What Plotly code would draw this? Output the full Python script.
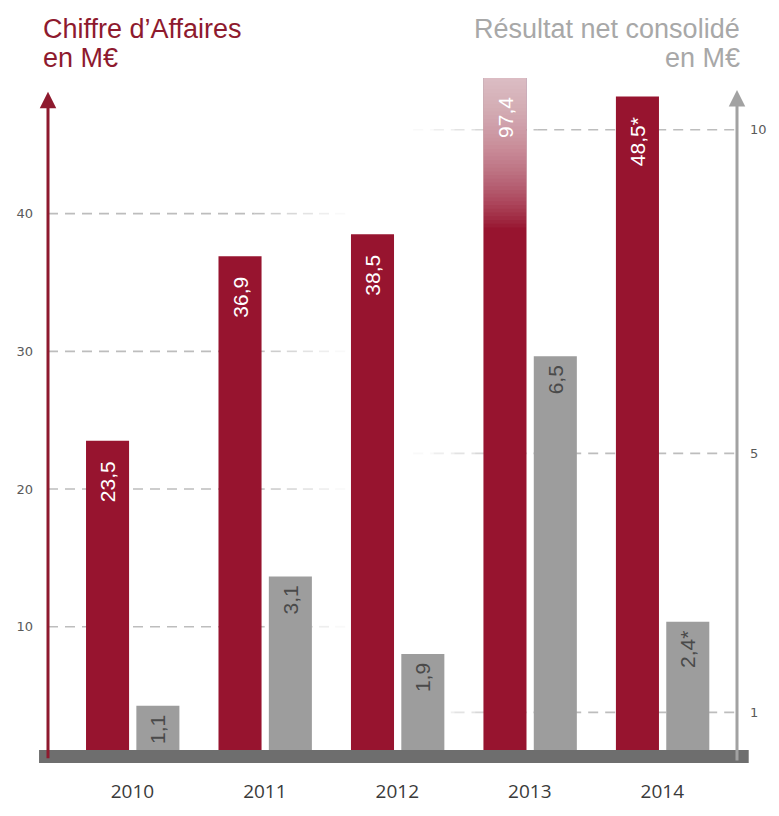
import plotly.graph_objects as go

# ---- data ----
years = ["2010", "2011", "2012", "2013", "2014"]
ca_values = [23.5, 36.9, 38.5, 97.4, 48.5]          # Chiffre d'Affaires (M€)
ca_labels = ["23,5", "36,9", "38,5", "97,4", "48,5*"]
rn_values = [1.1, 3.1, 1.9, 6.5, 2.4]               # Résultat net consolidé (M€)
rn_labels = ["1,1", "3,1", "1,9", "6,5", "2,4*"]
ca_ticks = [10, 20, 30, 40]
rn_ticks = [1, 5, 10]
highlight_year = "2013"

# ---- style ----
RED = "#97142f"
RED_AXIS = "#8e1a2e"
GREY_BAR = "#9d9d9d"
GREY_AXIS = "#a2a2a2"
BAND = "#6e6e6e"
GRID = "#bdbdbd"
FONT = "Liberation Sans, Arial, sans-serif"
TICK_FONT = "DejaVu Sans, Liberation Sans, sans-serif"
PAD_RED = "\u00a0" * 3
PAD_GREY = "\u00a0" * 1

Y1_RANGE = [0.54, 49.85]
Y2_RANGE = [0.31, 10.8]
RED_OFF, GREY_OFF, BAR_W = -0.35, 0.03, 0.325

# labels of bars that run past the top of the axis are placed separately
in_range_ca_text = [(t + PAD_RED) if v <= Y1_RANGE[1] else "" for t, v in zip(ca_labels, ca_values)]

fig = go.Figure()
fig.add_trace(go.Bar(
    x=years, y=ca_values, yaxis="y", offset=RED_OFF, width=BAR_W,
    marker=dict(color=RED, line=dict(width=0)),
    text=in_range_ca_text, textposition="inside",
    insidetextanchor="end", textangle=-90,
    textfont=dict(color="white", size=21, family=FONT),
    hoverinfo="skip",
))
fig.add_trace(go.Bar(
    x=years, y=rn_values, yaxis="y2", offset=GREY_OFF, width=BAR_W,
    marker=dict(color=GREY_BAR, line=dict(width=0)),
    text=[t + PAD_GREY for t in rn_labels], textposition="inside",
    insidetextanchor="end", textangle=-90,
    textfont=dict(color="#4a4a4a", size=21, family=FONT),
    hoverinfo="skip",
))

shapes = []
DASH = "10px,7px"

# fading dashed gridlines (left axis: fade out to the right)
for v in ca_ticks:
    shapes.append(dict(type="line", xref="paper", yref="y", x0=0, x1=0.30, y0=v, y1=v,
                       line=dict(color=GRID, width=1.6, dash=DASH), layer="below"))
    n = 6
    for k in range(n):
        a0 = 0.30 + 0.14 * k / n
        a1 = 0.30 + 0.14 * (k + 1) / n
        shapes.append(dict(type="line", xref="paper", yref="y", x0=a0, x1=a1, y0=v, y1=v,
                           opacity=1 - (k + 0.5) / n,
                           line=dict(color=GRID, width=1.6, dash=DASH), layer="below"))
# right axis gridlines: fade in from the left
for v in rn_ticks:
    n = 6
    for k in range(n):
        a0 = 0.53 + 0.18 * k / n
        a1 = 0.53 + 0.18 * (k + 1) / n
        shapes.append(dict(type="line", xref="paper", yref="y2", x0=a0, x1=a1, y0=v, y1=v,
                           opacity=(k + 0.5) / n,
                           line=dict(color=GRID, width=1.6, dash=DASH), layer="below"))
    shapes.append(dict(type="line", xref="paper", yref="y2", x0=0.71, x1=1.0, y0=v, y1=v,
                       line=dict(color=GRID, width=1.6, dash=DASH), layer="below"))

# gradient fade at the top of the highlighted (off-scale) bar: stacked translucent layers
hi = years.index(highlight_year)
g_bottom, g_top = 39.0, Y1_RANGE[1]
N = 40
alpha = 1 - (1 - 0.78) ** (1 / N)
for k in range(N):
    y0 = g_bottom + (g_top - g_bottom) * k / N
    shapes.append(dict(type="rect", xref="x", yref="y",
                       x0=hi + RED_OFF, x1=hi + RED_OFF + BAR_W, y0=y0, y1=g_top,
                       fillcolor="white", opacity=alpha,
                       line=dict(width=0), layer="above"))

# baseline band
shapes.append(dict(type="rect", xref="paper", yref="paper", x0=-0.013, x1=1.017,
                   y0=-0.0087, y1=0.0102, fillcolor=BAND, line=dict(width=0), layer="above"))

TITLE_SIZE = 27
annotations = [
    # axis arrows
    dict(xref="paper", yref="paper", x=0, y=0.9796, ax=0, ay=668, axref="pixel", ayref="pixel",
         text="", showarrow=True, arrowhead=2, arrowsize=1.1, arrowwidth=3, arrowcolor=RED_AXIS),
    dict(xref="paper", yref="paper", x=1, y=0.9825, ax=0, ay=672, axref="pixel", ayref="pixel",
         text="", showarrow=True, arrowhead=2, arrowsize=1.1, arrowwidth=3, arrowcolor=GREY_AXIS),
    # titles (one annotation per line for tight leading)
    dict(xref="paper", yref="paper", x=-0.010, y=1.0729, xanchor="left", yanchor="middle",
         showarrow=False, text="Chiffre d\u2019Affaires",
         font=dict(family=FONT, size=TITLE_SIZE, color=RED_AXIS)),
    dict(xref="paper", yref="paper", x=-0.010, y=1.0292, xanchor="left", yanchor="middle",
         showarrow=False, text="en M\u20ac",
         font=dict(family=FONT, size=TITLE_SIZE, color=RED_AXIS)),
    dict(xref="paper", yref="paper", x=1.007, y=1.0729, xanchor="right", yanchor="middle",
         showarrow=False, text="R\u00e9sultat net consolid\u00e9",
         font=dict(family=FONT, size=TITLE_SIZE, color="#a8a8a8")),
    dict(xref="paper", yref="paper", x=1.007, y=1.0292, xanchor="right", yanchor="middle",
         showarrow=False, text="en M\u20ac",
         font=dict(family=FONT, size=TITLE_SIZE, color="#a8a8a8")),
]
# labels for off-scale bars, pinned to the top of the visible bar
for i, (t, v) in enumerate(zip(ca_labels, ca_values)):
    if v > Y1_RANGE[1]:
        annotations.append(dict(xref="x", yref="y", x=i + RED_OFF + BAR_W / 2, y=Y1_RANGE[1],
                                xanchor="center", yanchor="top", textangle=-90,
                                showarrow=False, text=t + PAD_RED,
                                font=dict(family=FONT, size=21, color="white")))

fig.update_layout(
    width=779, height=816,
    margin=dict(l=48, r=31, t=78, b=52),
    paper_bgcolor="white", plot_bgcolor="white",
    showlegend=False, barmode="overlay",
    xaxis=dict(type="category", range=[-0.637, 4.564], showgrid=False, zeroline=False,
               showline=False, ticks="", ticklabelstandoff=21,
               tickfont=dict(family="Open Sans, Liberation Sans, Arial", size=19, color="#3a3a3a")),
    yaxis=dict(range=Y1_RANGE, tickvals=ca_ticks, showgrid=False, zeroline=False,
               showline=False, ticks="", ticklabelstandoff=14,
               tickfont=dict(family=TICK_FONT, size=13, color="#5a5a5a")),
    yaxis2=dict(range=Y2_RANGE, tickvals=rn_ticks, overlaying="y", side="right",
                showgrid=False, zeroline=False, showline=False, ticks="", ticklabelstandoff=12,
                tickfont=dict(family=TICK_FONT, size=13, color="#5a5a5a")),
    shapes=shapes, annotations=annotations,
)

# the page has no body margin so the 779x816 figure fills the window exactly
fig.write_html("out.html", config={"displayModeBar": False},
               post_script="document.body.style.margin='0';")
